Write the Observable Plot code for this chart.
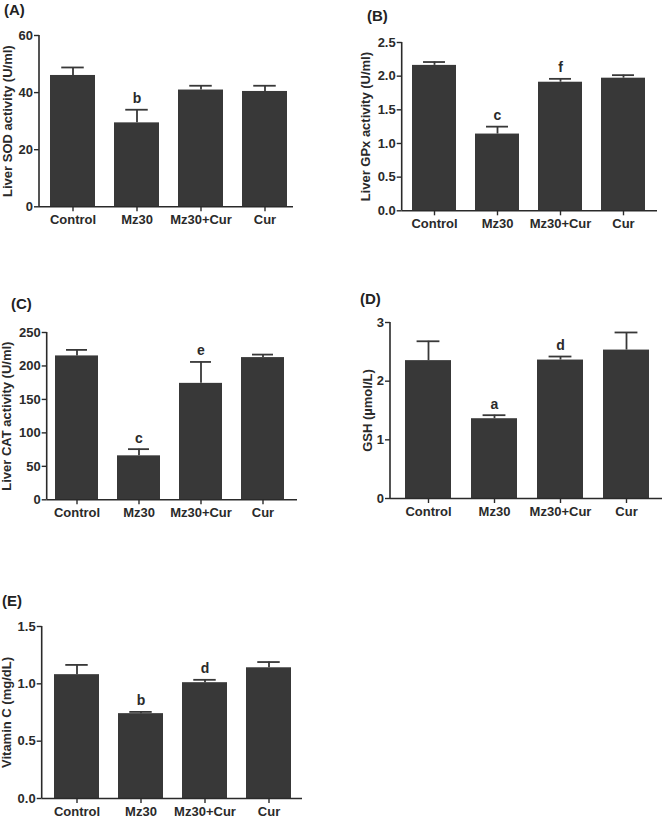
<!DOCTYPE html>
<html><head><meta charset="utf-8">
<script src="https://cdn.jsdelivr.net/npm/d3@7"></script>
<script src="https://cdn.jsdelivr.net/npm/@observablehq/plot@0.6"></script>
<style>
body{margin:0;background:#fff;}
#root{position:relative;width:663px;height:817px;overflow:hidden;font-family:"Liberation Sans",Arial,sans-serif;}
.plabel{position:absolute;font-weight:bold;font-size:15px;line-height:1;color:#222;white-space:nowrap;}
.panel{position:absolute;}
</style></head><body><div id="root"></div>
<script>
const categories = ["Control", "Mz30", "Mz30+Cur", "Cur"];

const sodMean = [46.0, 29.4, 40.9, 40.4];
const sodErr = [2.8, 4.6, 1.5, 2.0];
const sodLetters = ["", "b", "", ""];
const sodTicks = [0, 20, 40, 60];

const gpxMean = [2.16, 1.14, 1.91, 1.97];
const gpxErr = [0.05, 0.11, 0.05, 0.045];
const gpxLetters = ["", "c", "f", ""];
const gpxTicks = [0, 0.5, 1.0, 1.5, 2.0, 2.5];

const catMean = [215, 65.7, 174, 212.5];
const catErr = [9, 10, 32, 4.5];
const catLetters = ["", "c", "e", ""];
const catTicks = [0, 50, 100, 150, 200, 250];

const gshMean = [2.35, 1.36, 2.36, 2.53];
const gshErr = [0.33, 0.06, 0.06, 0.30];
const gshLetters = ["", "a", "d", ""];
const gshTicks = [0, 1, 2, 3];

const vitcMean = [1.08, 0.74, 1.01, 1.14];
const vitcErr = [0.085, 0.015, 0.025, 0.05];
const vitcLetters = ["", "b", "d", ""];
const vitcTicks = [0, 0.5, 1.0, 1.5];

const panelTags = ["(A)", "(B)", "(C)", "(D)", "(E)"];
const yLabels = ["Liver SOD activity (U/ml)", "Liver GPx activity (U/ml)", "Liver CAT activity (U/ml)", "GSH (\u00b5mol/L)", "Vitamin C (mg/dL)"];

const BAR = "#383838", INK = "#2a2a2a";

const panels = [
  {tag: panelTags[0], ylab: yLabels[0], means: sodMean, errs: sodErr, letters: sodLetters, ticks: sodTicks, fmt: "d",
   fl: 39, fr: 293, ft: 34.7, fb: 206, col: 0, po: 0.125, align: 0.62, tx: 4, ty: 2, labX: 2},
  {tag: panelTags[1], ylab: yLabels[1], means: gpxMean, errs: gpxErr, letters: gpxLetters, ticks: gpxTicks, fmt: ".1f",
   fl: 401.7, fr: 657, ft: 41.7, fb: 210, col: 340, po: 0.176, align: 0.46, tx: 367, ty: 8, labX: 360},
  {tag: panelTags[2], ylab: yLabels[2], means: catMean, errs: catErr, letters: catLetters, ticks: catTicks, fmt: "d",
   fl: 46.7, fr: 297, ft: 331.7, fb: 499, col: 0, po: 0.137, align: 0.42, tx: 11, ty: 296, labX: 1},
  {tag: panelTags[3], ylab: yLabels[3], means: gshMean, errs: gshErr, letters: gshLetters, ticks: gshTicks, fmt: "d",
   fl: 390, fr: 662, ft: 322.3, fb: 498.3, col: 340, po: 0.205, align: 0.55, tx: 360, ty: 291, labX: 362},
  {tag: panelTags[4], ylab: yLabels[4], means: vitcMean, errs: vitcErr, letters: vitcLetters, ticks: vitcTicks, fmt: ".1f",
   fl: 41.7, fr: 302, ft: 625.7, fb: 797.7, col: 0, po: 0.17, align: 0.51, tx: 2, ty: 593, labX: 1}
];

const root = document.getElementById("root");

for (const p of panels) {
  const rows = categories.map((c, i) => ({cat: c, mean: p.means[i], top: p.means[i] + p.errs[i], letter: p.letters[i]}));
  const marginTop = 15, marginBottom = 32;
  const marginRight = Math.max(1, Math.min(4, 663 - p.fr));
  const marginLeft = p.fl - p.col;
  const width = p.fr - p.col + marginRight;
  const height = p.fb - p.ft + marginTop + marginBottom;
  const bandwidth = (p.fr - p.fl) / (categories.length - 0.3 + 2 * p.po) * 0.7;

  const yAxisLine = (index, scales, values, dims) => {
    const l = document.createElementNS("http://www.w3.org/2000/svg", "line");
    l.setAttribute("x1", dims.marginLeft);
    l.setAttribute("x2", dims.marginLeft);
    l.setAttribute("y1", dims.marginTop);
    l.setAttribute("y2", dims.height - dims.marginBottom);
    l.setAttribute("stroke", INK);
    l.setAttribute("stroke-width", 1.6);
    return l;
  };

  const chart = Plot.plot({
    width, height, marginLeft, marginRight, marginTop, marginBottom,
    style: {fontFamily: '"Liberation Sans", Arial, sans-serif', fontSize: "13px", fontWeight: "bold", color: INK, background: "transparent", overflow: "visible"},
    x: {domain: categories, paddingInner: 0.3, paddingOuter: p.po, align: p.align, label: null},
    y: {domain: [0, p.ticks[p.ticks.length - 1]], label: null},
    marks: [
      Plot.barY(rows, {x: "cat", y: "mean", fill: BAR}),
      Plot.ruleX(rows, {x: "cat", y1: "mean", y2: "top", stroke: BAR, strokeWidth: 1.8}),
      Plot.tickY(rows, {x: "cat", y: "top", stroke: BAR, strokeWidth: 1.8, insetLeft: bandwidth * 0.25, insetRight: bandwidth * 0.25}),
      Plot.text(rows, {x: "cat", y: "top", text: "letter", dy: -11, fontSize: 14, fontWeight: "bold", fill: INK}),
      Plot.ruleY([0], {stroke: INK, strokeWidth: 1.6}),
      yAxisLine,
      Plot.axisY({ticks: p.ticks, tickFormat: d3.format(p.fmt), tickSize: 5, tickPadding: 1.5, stroke: INK, strokeWidth: 1.4,
        fontSize: 13, fontWeight: "bold",
        label: p.ylab, labelAnchor: "center", labelArrow: "none", labelOffset: marginLeft - (p.labX - p.col)}),
      Plot.axisX({tickSize: 5, tickPadding: 3, stroke: INK, strokeWidth: 1.4, fontSize: 13, fontWeight: "bold", label: null})
    ]
  });
  chart.classList.add("panel");
  chart.style.left = p.col + "px";
  chart.style.top = (p.ft - marginTop) + "px";
  root.appendChild(chart);

  const tag = document.createElement("div");
  tag.className = "plabel";
  tag.textContent = p.tag;
  tag.style.left = p.tx + "px";
  tag.style.top = p.ty + "px";
  root.appendChild(tag);
}
</script></body></html>
